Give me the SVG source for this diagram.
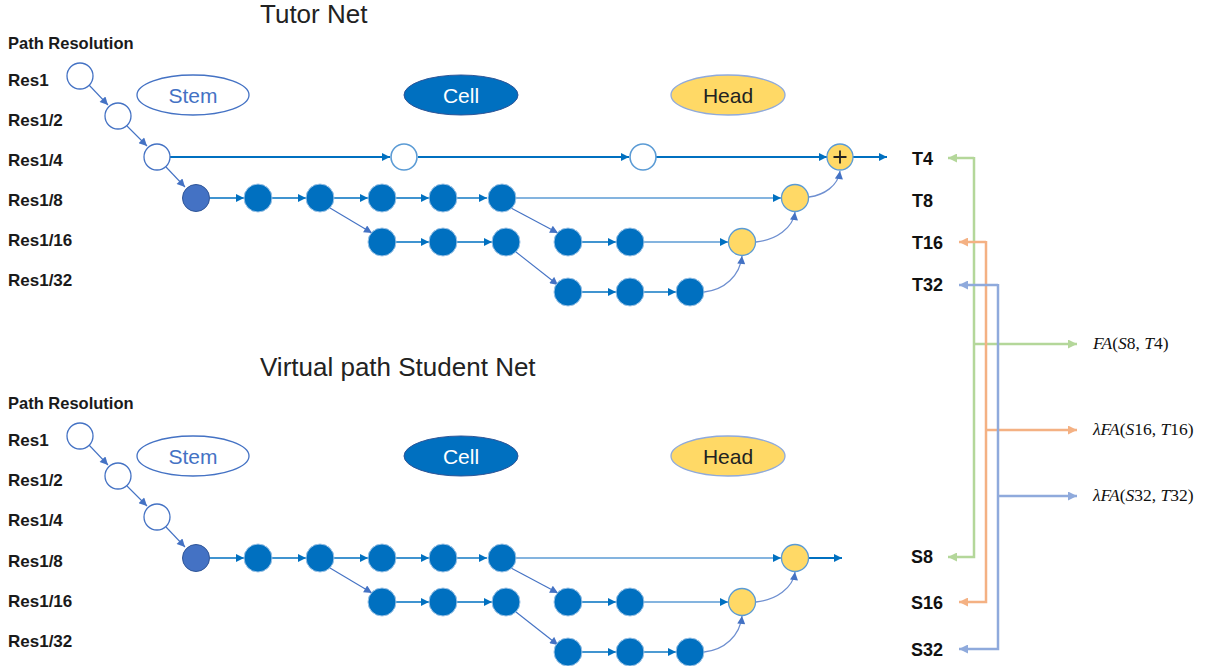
<svg xmlns="http://www.w3.org/2000/svg" width="1214" height="666" viewBox="0 0 1214 666">
<style>
.bg{fill:#ffffff}
.title{font-family:"Liberation Sans",Arial,sans-serif;font-size:26px;fill:#222}
.lab{font-family:"Liberation Sans",Arial,sans-serif;font-weight:bold;font-size:17px;fill:#1a1a1a}
.pr{font-size:16.5px}
.tl{font-family:"Liberation Sans",Arial,sans-serif;font-weight:bold;font-size:18px;fill:#111}
.leg{font-family:"Liberation Sans",Arial,sans-serif;font-size:21px;text-anchor:middle}
.fx{font-family:"Liberation Serif","Times New Roman",serif;font-size:17.5px;fill:#111}
.it{font-style:italic}
.white{fill:#ffffff;stroke:#4472C4;stroke-width:1.3}
.white2{fill:#ffffff;stroke:#5B9BD5;stroke-width:1.6}
.blue{fill:#0070C0;stroke:#9DC3E6;stroke-width:1}
.dark{fill:#4472C4;stroke:#2F5597;stroke-width:1}
.yel{fill:#FFD966;stroke:#5B9BD5;stroke-width:1.3}
.main{fill:none;stroke:#0070C0;stroke-width:2}
.h{fill:none;stroke:#0070C0;stroke-width:1.4}
.hl{fill:none;stroke:#5B9BD5;stroke-width:1.6}
.d{fill:none;stroke:#4472C4;stroke-width:1.1}
.cv{fill:none;stroke:#6E8FD0;stroke-width:1.3}
.gr{fill:none;stroke:#B4D79A;stroke-width:2.5}
.or{fill:none;stroke:#F4B183;stroke-width:2.5}
.pu{fill:none;stroke:#8FAADC;stroke-width:2.5}
</style>
<defs>
<marker id="ma" viewBox="0 0 10 10" refX="10" refY="5" markerWidth="9" markerHeight="8" markerUnits="userSpaceOnUse" orient="auto"><path d="M0,0L10,5L0,10z" fill="#0070C0"/></marker>
<marker id="mb" viewBox="0 0 10 10" refX="10" refY="5" markerWidth="9" markerHeight="8" markerUnits="userSpaceOnUse" orient="auto"><path d="M0,0L10,5L0,10z" fill="#4472C4"/></marker>
<marker id="mg" viewBox="0 0 10 10" refX="10" refY="5" markerWidth="10" markerHeight="9" markerUnits="userSpaceOnUse" orient="auto"><path d="M0,0L10,5L0,10z" fill="#B4D79A"/></marker>
<marker id="mo" viewBox="0 0 10 10" refX="10" refY="5" markerWidth="10" markerHeight="9" markerUnits="userSpaceOnUse" orient="auto"><path d="M0,0L10,5L0,10z" fill="#F4B183"/></marker>
<marker id="mp" viewBox="0 0 10 10" refX="10" refY="5" markerWidth="10" markerHeight="9" markerUnits="userSpaceOnUse" orient="auto"><path d="M0,0L10,5L0,10z" fill="#8FAADC"/></marker>
</defs>
<rect class="bg" x="0" y="0" width="1214" height="666"/>

<!-- Titles and labels -->
<g id="labels">
<text class="title" x="260" y="23">Tutor Net</text>
<text class="title" x="260" y="376">Virtual path Student Net</text>
<text class="lab pr" x="8" y="49">Path Resolution</text>
<text class="lab" x="8" y="86">Res1</text>
<text class="lab" x="8" y="126">Res1/2</text>
<text class="lab" x="8" y="166">Res1/4</text>
<text class="lab" x="8" y="206">Res1/8</text>
<text class="lab" x="8" y="246">Res1/16</text>
<text class="lab" x="8" y="286">Res1/32</text>
<text class="lab pr" x="8" y="409">Path Resolution</text>
<text class="lab" x="8" y="446">Res1</text>
<text class="lab" x="8" y="486">Res1/2</text>
<text class="lab" x="8" y="526">Res1/4</text>
<text class="lab" x="8" y="567">Res1/8</text>
<text class="lab" x="8" y="607">Res1/16</text>
<text class="lab" x="8" y="647">Res1/32</text>
<text class="tl" x="912" y="165">T4</text>
<text class="tl" x="912" y="207">T8</text>
<text class="tl" x="912" y="249">T16</text>
<text class="tl" x="912" y="291">T32</text>
<text class="tl" x="911" y="563">S8</text>
<text class="tl" x="911" y="609">S16</text>
<text class="tl" x="911" y="656">S32</text>
<text class="fx" x="1093" y="349"><tspan class="it">FA</tspan>(<tspan class="it">S</tspan>8, <tspan class="it">T</tspan>4)</text>
<text class="fx" x="1093" y="435"><tspan class="it">λFA</tspan>(<tspan class="it">S</tspan>16, <tspan class="it">T</tspan>16)</text>
<text class="fx" x="1093" y="501"><tspan class="it">λFA</tspan>(<tspan class="it">S</tspan>32, <tspan class="it">T</tspan>32)</text>
</g>

<!-- Legend -->
<g id="legend-top">
<ellipse cx="193" cy="95" rx="56" ry="20" fill="#fff" stroke="#4472C4" stroke-width="1.3"/>
<text class="leg" x="193" y="103" fill="#4472C4">Stem</text>
<ellipse cx="461" cy="95" rx="57" ry="20" fill="#0070C0" stroke="#2F5597" stroke-width="1"/>
<text class="leg" x="461" y="103" fill="#ffffff">Cell</text>
<ellipse cx="728" cy="95" rx="57" ry="20" fill="#FFD966" stroke="#8FAADC" stroke-width="1.3"/>
<text class="leg" x="728" y="103" fill="#222">Head</text>
</g>
<g id="legend-bottom">
<ellipse cx="193" cy="456" rx="56" ry="20" fill="#fff" stroke="#4472C4" stroke-width="1.3"/>
<text class="leg" x="193" y="464" fill="#4472C4">Stem</text>
<ellipse cx="461" cy="456" rx="57" ry="20" fill="#0070C0" stroke="#2F5597" stroke-width="1"/>
<text class="leg" x="461" y="464" fill="#ffffff">Cell</text>
<ellipse cx="728" cy="456" rx="57" ry="20" fill="#FFD966" stroke="#8FAADC" stroke-width="1.3"/>
<text class="leg" x="728" y="464" fill="#222">Head</text>
</g>

<!-- Connectors -->
<g id="connectors">
<!-- top -->
<path class="d" d="M89,85L108,105" marker-end="url(#mb)" stroke-width="1.8"/>
<path class="d" d="M127,126L147,146" marker-end="url(#mb)" stroke-width="1.8"/>
<path class="d" d="M166,167L185,187" marker-end="url(#mb)" stroke-width="1.8"/>
<path class="main" d="M170,157L390,157" marker-end="url(#ma)"/>
<path class="main" d="M418,157L629,157" marker-end="url(#ma)"/>
<path class="main" d="M656,157L827,157" marker-end="url(#ma)"/>
<path class="main" d="M853,157L887,157" marker-end="url(#ma)"/>
<path class="h" d="M210,198L244,198" marker-end="url(#ma)"/>
<path class="h" d="M272,198L306,198" marker-end="url(#ma)"/>
<path class="h" d="M334,198L368,198" marker-end="url(#ma)"/>
<path class="h" d="M396,198L429,198" marker-end="url(#ma)"/>
<path class="h" d="M457,198L487,198" marker-end="url(#ma)"/>
<path class="hl" d="M516,198L781,198" marker-end="url(#ma)"/>
<path class="d" d="M330,208L372,233" marker-end="url(#mb)"/>
<path class="h" d="M396,242L429,242" marker-end="url(#ma)"/>
<path class="h" d="M457,242L492,242" marker-end="url(#ma)"/>
<path class="d" d="M511,208L558,233" marker-end="url(#mb)"/>
<path class="h" d="M582,242L616,242" marker-end="url(#ma)"/>
<path class="hl" d="M644,242L728,242" marker-end="url(#ma)"/>
<path class="d" d="M516,252L558,285" marker-end="url(#mb)"/>
<path class="h" d="M582,292L616,292" marker-end="url(#ma)"/>
<path class="h" d="M644,292L676,292" marker-end="url(#ma)"/>
<path class="cv" d="M704,292C724,290 740,276 742,256" marker-end="url(#mb)"/>
<path class="cv" d="M756,242C776,240 793,228 795,212" marker-end="url(#mb)"/>
<path class="cv" d="M809,197C824,195 838,186 840,171" marker-end="url(#mb)"/>
<!-- bottom -->
<path class="d" d="M89,445L108,465" marker-end="url(#mb)" stroke-width="1.8"/>
<path class="d" d="M127,486L147,506" marker-end="url(#mb)" stroke-width="1.8"/>
<path class="d" d="M166,527L185,547" marker-end="url(#mb)" stroke-width="1.8"/>
<path class="h" d="M210,558L244,558" marker-end="url(#ma)"/>
<path class="h" d="M272,558L306,558" marker-end="url(#ma)"/>
<path class="h" d="M334,558L368,558" marker-end="url(#ma)"/>
<path class="h" d="M396,558L429,558" marker-end="url(#ma)"/>
<path class="h" d="M457,558L487,558" marker-end="url(#ma)"/>
<path class="hl" d="M516,558L781,558" marker-end="url(#ma)"/>
<path class="main" d="M809,558L842,558" marker-end="url(#ma)"/>
<path class="d" d="M330,568L372,593" marker-end="url(#mb)"/>
<path class="h" d="M396,602L429,602" marker-end="url(#ma)"/>
<path class="h" d="M457,602L492,602" marker-end="url(#ma)"/>
<path class="d" d="M511,568L558,593" marker-end="url(#mb)"/>
<path class="h" d="M582,602L616,602" marker-end="url(#ma)"/>
<path class="hl" d="M644,602L728,602" marker-end="url(#ma)"/>
<path class="d" d="M516,612L558,645" marker-end="url(#mb)"/>
<path class="h" d="M582,652L616,652" marker-end="url(#ma)"/>
<path class="h" d="M644,652L676,652" marker-end="url(#ma)"/>
<path class="cv" d="M704,652C724,650 740,636 742,616" marker-end="url(#mb)"/>
<path class="cv" d="M756,602C776,600 793,588 795,572" marker-end="url(#mb)"/>
<!-- distillation brackets -->
<path class="gr" d="M974,158L948,158"  marker-end="url(#mg)"/>
<path class="gr" d="M974,157L974,557L948,557" marker-end="url(#mg)"/>
<path class="gr" d="M974,344L1077,344" marker-end="url(#mg)"/>
<path class="or" d="M986,242L959,242" marker-end="url(#mo)"/>
<path class="or" d="M986,241L986,602L959,602" marker-end="url(#mo)"/>
<path class="or" d="M986,430L1077,430" marker-end="url(#mo)"/>
<path class="pu" d="M998,285L959,285" marker-end="url(#mp)"/>
<path class="pu" d="M998,284L998,649L959,649" marker-end="url(#mp)"/>
<path class="pu" d="M998,496L1077,496" marker-end="url(#mp)"/>
</g>

<!-- Top nodes -->
<g id="t-res1"><circle class="white" cx="80" cy="76" r="13"/></g>
<g id="t-res2"><circle class="white" cx="118" cy="116" r="13"/></g>
<g id="t-res4"><circle class="white" cx="157" cy="157" r="13"/></g>
<g id="t-stem8"><circle class="dark" cx="196" cy="198" r="13.5"/></g>
<g id="t-c8a"><circle class="blue" cx="258" cy="198" r="14"/></g>
<g id="t-c8b"><circle class="blue" cx="320" cy="198" r="14"/></g>
<g id="t-c8c"><circle class="blue" cx="382" cy="198" r="14"/></g>
<g id="t-c8d"><circle class="blue" cx="443" cy="198" r="14"/></g>
<g id="t-c8e"><circle class="blue" cx="502" cy="198" r="14"/></g>
<g id="t-c16a"><circle class="blue" cx="382" cy="242" r="14"/></g>
<g id="t-c16b"><circle class="blue" cx="443" cy="242" r="14"/></g>
<g id="t-c16c"><circle class="blue" cx="506" cy="242" r="14"/></g>
<g id="t-c16d"><circle class="blue" cx="568" cy="242" r="14"/></g>
<g id="t-c16e"><circle class="blue" cx="630" cy="242" r="14"/></g>
<g id="t-c32a"><circle class="blue" cx="568" cy="292" r="14"/></g>
<g id="t-c32b"><circle class="blue" cx="630" cy="292" r="14"/></g>
<g id="t-c32c"><circle class="blue" cx="690" cy="292" r="14"/></g>
<g id="t-w1"><circle class="white2" cx="404" cy="157" r="13"/></g>
<g id="t-w2"><circle class="white2" cx="643" cy="157" r="13"/></g>
<g id="t-h16"><circle class="yel" cx="742" cy="242" r="13.5"/></g>
<g id="t-h8"><circle class="yel" cx="795" cy="198" r="13.5"/></g>
<g id="t-plus"><circle class="yel" cx="840" cy="157" r="13"/><path d="M840,150.5V163.5M833.5,157H846.5" stroke="#222" stroke-width="1.8"/></g>

<!-- Bottom nodes -->
<g id="s-res1"><circle class="white" cx="80" cy="436" r="13"/></g>
<g id="s-res2"><circle class="white" cx="118" cy="476" r="13"/></g>
<g id="s-res4"><circle class="white" cx="157" cy="517" r="13"/></g>
<g id="s-stem8"><circle class="dark" cx="196" cy="558" r="13.5"/></g>
<g id="s-c8a"><circle class="blue" cx="258" cy="558" r="14"/></g>
<g id="s-c8b"><circle class="blue" cx="320" cy="558" r="14"/></g>
<g id="s-c8c"><circle class="blue" cx="382" cy="558" r="14"/></g>
<g id="s-c8d"><circle class="blue" cx="443" cy="558" r="14"/></g>
<g id="s-c8e"><circle class="blue" cx="502" cy="558" r="14"/></g>
<g id="s-c16a"><circle class="blue" cx="382" cy="602" r="14"/></g>
<g id="s-c16b"><circle class="blue" cx="443" cy="602" r="14"/></g>
<g id="s-c16c"><circle class="blue" cx="506" cy="602" r="14"/></g>
<g id="s-c16d"><circle class="blue" cx="568" cy="602" r="14"/></g>
<g id="s-c16e"><circle class="blue" cx="630" cy="602" r="14"/></g>
<g id="s-c32a"><circle class="blue" cx="568" cy="652" r="14"/></g>
<g id="s-c32b"><circle class="blue" cx="630" cy="652" r="14"/></g>
<g id="s-c32c"><circle class="blue" cx="690" cy="652" r="14"/></g>
<g id="s-h16"><circle class="yel" cx="742" cy="602" r="13.5"/></g>
<g id="s-h8"><circle class="yel" cx="795" cy="558" r="13.5"/></g>
</svg>
